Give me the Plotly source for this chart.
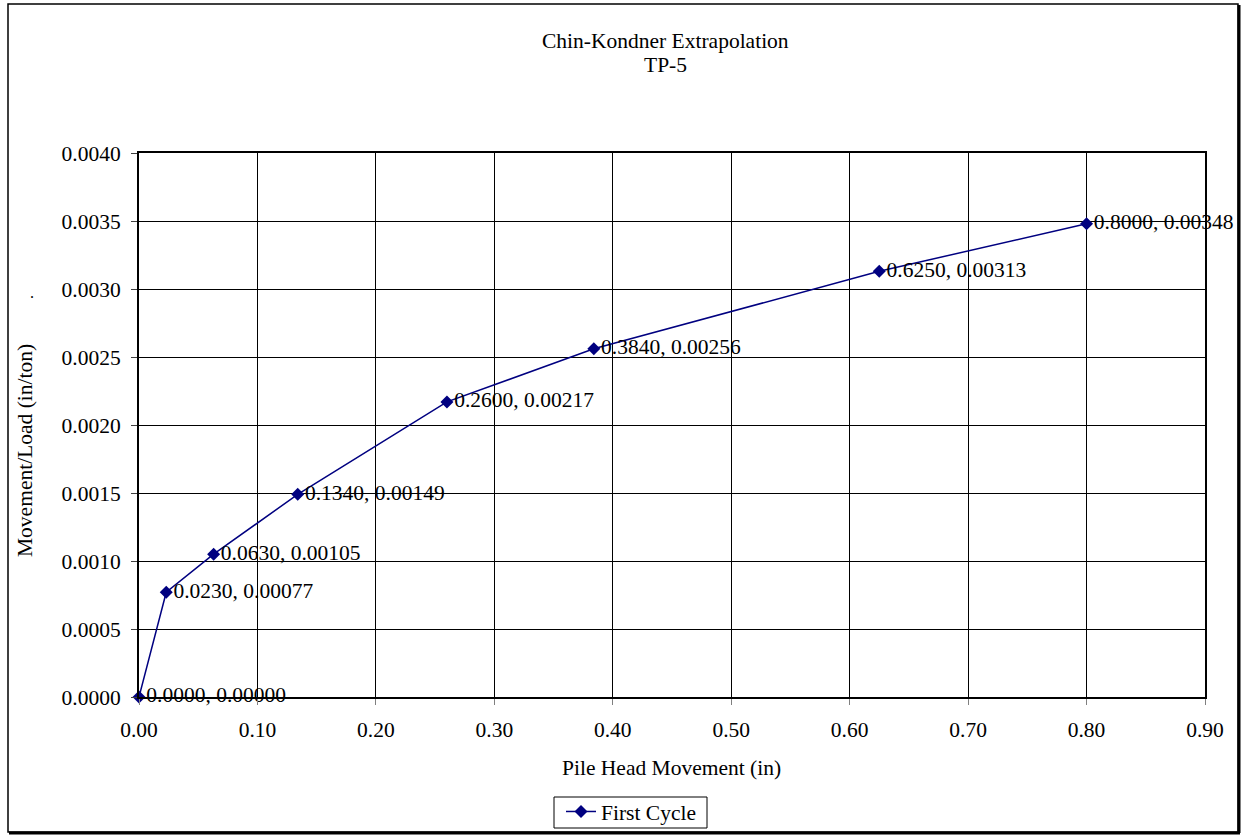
import plotly.graph_objects as go

movement = [0.0, 0.023, 0.063, 0.134, 0.260, 0.384, 0.625, 0.800]
ratio = [0.0, 0.00077, 0.00105, 0.00149, 0.00217, 0.00256, 0.00313, 0.00348]
labels = [f"{x:.4f}, {y:.5f}" for x, y in zip(movement, ratio)]
series_name = "First Cycle"
title_lines = ["Chin-Kondner Extrapolation", "TP-5"]
x_title = "Pile Head Movement (in)"
y_title = "Movement/Load (in/ton)"

FONT = "Liberation Serif, Times New Roman, serif"
FS = 21.5
W, H = 1244, 838
L, R, T, B = 139, 1205, 153, 697
pw, ph = R - L, B - T

def px(x):
    return (x - L) / pw

def py(y):
    return (B - y) / ph

fig = go.Figure()
fig.add_trace(go.Scatter(
    x=movement, y=ratio, mode="lines+markers+text", name=series_name,
    text=labels, textposition="middle right",
    textfont=dict(family=FONT, size=FS, color="black"),
    line=dict(color="#000080", width=1.5),
    marker=dict(symbol="diamond", size=10, color="#000080"),
    cliponaxis=False,
))

fig.update_layout(
    width=W, height=H,
    margin=dict(l=L, r=W - R, t=T, b=H - B, autoexpand=False),
    paper_bgcolor="white", plot_bgcolor="white",
    font=dict(family=FONT, size=FS, color="black"),
    showlegend=True,
    legend=dict(
        orientation="h", x=px(631), xanchor="center", y=py(791), yanchor="top",
        borderwidth=0, bgcolor="rgba(0,0,0,0)",
        font=dict(family=FONT, size=FS, color="black"),
        itemwidth=30,
    ),
    xaxis=dict(
        range=[0, 0.9], tickvals=[i / 10 for i in range(10)],
        tickformat=".2f", showgrid=True, gridcolor="black", gridwidth=1,
        showline=True, linecolor="black", linewidth=2, mirror=True,
        ticks="outside", ticklen=6, tickcolor="#808080",
        zeroline=False, tickfont=dict(size=FS), automargin=False,
        ticklabelstandoff=6,
    ),
    yaxis=dict(
        range=[0, 0.004], tickvals=[i * 0.0005 for i in range(9)],
        tickformat=".4f", showgrid=True, gridcolor="black", gridwidth=1,
        showline=True, linecolor="black", linewidth=2, mirror=True,
        ticks="outside", ticklen=6, tickcolor="#404040",
        zeroline=False, tickfont=dict(size=FS), automargin=False,
        ticklabelstandoff=6,
    ),
    annotations=[
        dict(text=title_lines[0], xref="paper", yref="paper",
             x=px(665), y=py(41), xanchor="center", yanchor="middle",
             showarrow=False, font=dict(size=FS)),
        dict(text=title_lines[1], xref="paper", yref="paper",
             x=px(665), y=py(65), xanchor="center", yanchor="middle",
             showarrow=False, font=dict(size=FS)),
        dict(text=x_title, xref="paper", yref="paper", x=px(671), y=py(768),
             xanchor="center", yanchor="middle", showarrow=False, font=dict(size=FS)),
        dict(text=y_title, xref="paper", yref="paper", x=px(25), y=py(451),
             xanchor="center", yanchor="middle", textangle=-90, showarrow=False,
             font=dict(size=FS)),
        dict(text=".", xref="paper", yref="paper", x=px(32), y=py(292),
             xanchor="center", yanchor="middle", showarrow=False, font=dict(size=16)),
    ],
    shapes=[
        dict(type="rect", xref="paper", yref="paper", x0=px(8), x1=px(1238),
             y0=py(4), y1=py(832), line=dict(color="black", width=1.5), layer="below"),
        dict(type="line", xref="paper", yref="paper", x0=px(1239), x1=px(1239),
             y0=py(5), y1=py(833), line=dict(color="black", width=3)),
        dict(type="line", xref="paper", yref="paper", x0=px(9), x1=px(1240),
             y0=py(833), y1=py(833), line=dict(color="black", width=3)),
        dict(type="rect", xref="paper", yref="paper", x0=px(554), x1=px(707),
             y0=py(797), y1=py(828), line=dict(color="black", width=1), layer="below"),
    ],
)

fig.write_html(
    "out.html",
    config={"displayModeBar": False},
    post_script="document.body.style.margin='0';document.body.style.overflow='hidden';",
)
